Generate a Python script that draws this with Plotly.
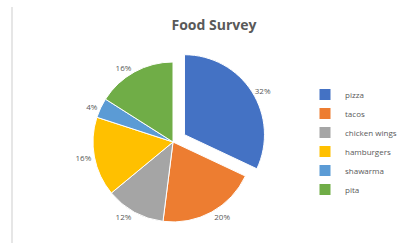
import plotly.graph_objects as go

labels = ["pizza", "tacos", "chicken wings", "hamburgers", "shawarma", "pita"]
values = [32, 20, 12, 16, 4, 16]
colors = ["#4472C4", "#ED7D31", "#A5A5A5", "#FFC000", "#5B9BD5", "#70AD47"]
pulls = [0.17, 0, 0, 0, 0, 0]

W, H = 403, 244
cx, cy, r = 173, 142, 80
half = r * (1 + max(pulls))

fig = go.Figure(go.Pie(
    labels=labels,
    values=values,
    sort=False,
    direction="clockwise",
    rotation=0,
    pull=pulls,
    marker=dict(colors=colors, line=dict(color="white", width=1)),
    textposition="outside",
    texttemplate="%{value}%",
    textfont=dict(size=8, color="#595959", family="Open Sans"),
    domain=dict(x=[(cx - half) / W, (cx + half) / W], y=[1 - (cy + half) / H, 1 - (cy - half) / H]),
    hoverinfo="label+percent",
))

fig.update_layout(
    width=W, height=H,
    margin=dict(l=0, r=0, t=0, b=0, autoexpand=False),
    paper_bgcolor="white",
    plot_bgcolor="white",
    title=dict(text="<b>Food Survey</b>", x=214 / W, xanchor="center", y=1 - 25 / H, yanchor="middle",
               font=dict(size=14, color="#595959", family="Open Sans")),
    legend=dict(x=305 / W, xanchor="left", y=1 - 80 / H, yanchor="top",
                font=dict(size=8, color="#595959", family="Open Sans"),
                bgcolor="rgba(0,0,0,0)"),
    shapes=[dict(type="line", xref="paper", yref="paper", x0=12 / W, x1=12 / W, y0=1 - 243 / H, y1=1 - 7 / H,
                 line=dict(color="#e6e6e6", width=2))],
)

fig.write_html("out.html", config={"displayModeBar": False},
               post_script="document.body.style.margin='0';")
